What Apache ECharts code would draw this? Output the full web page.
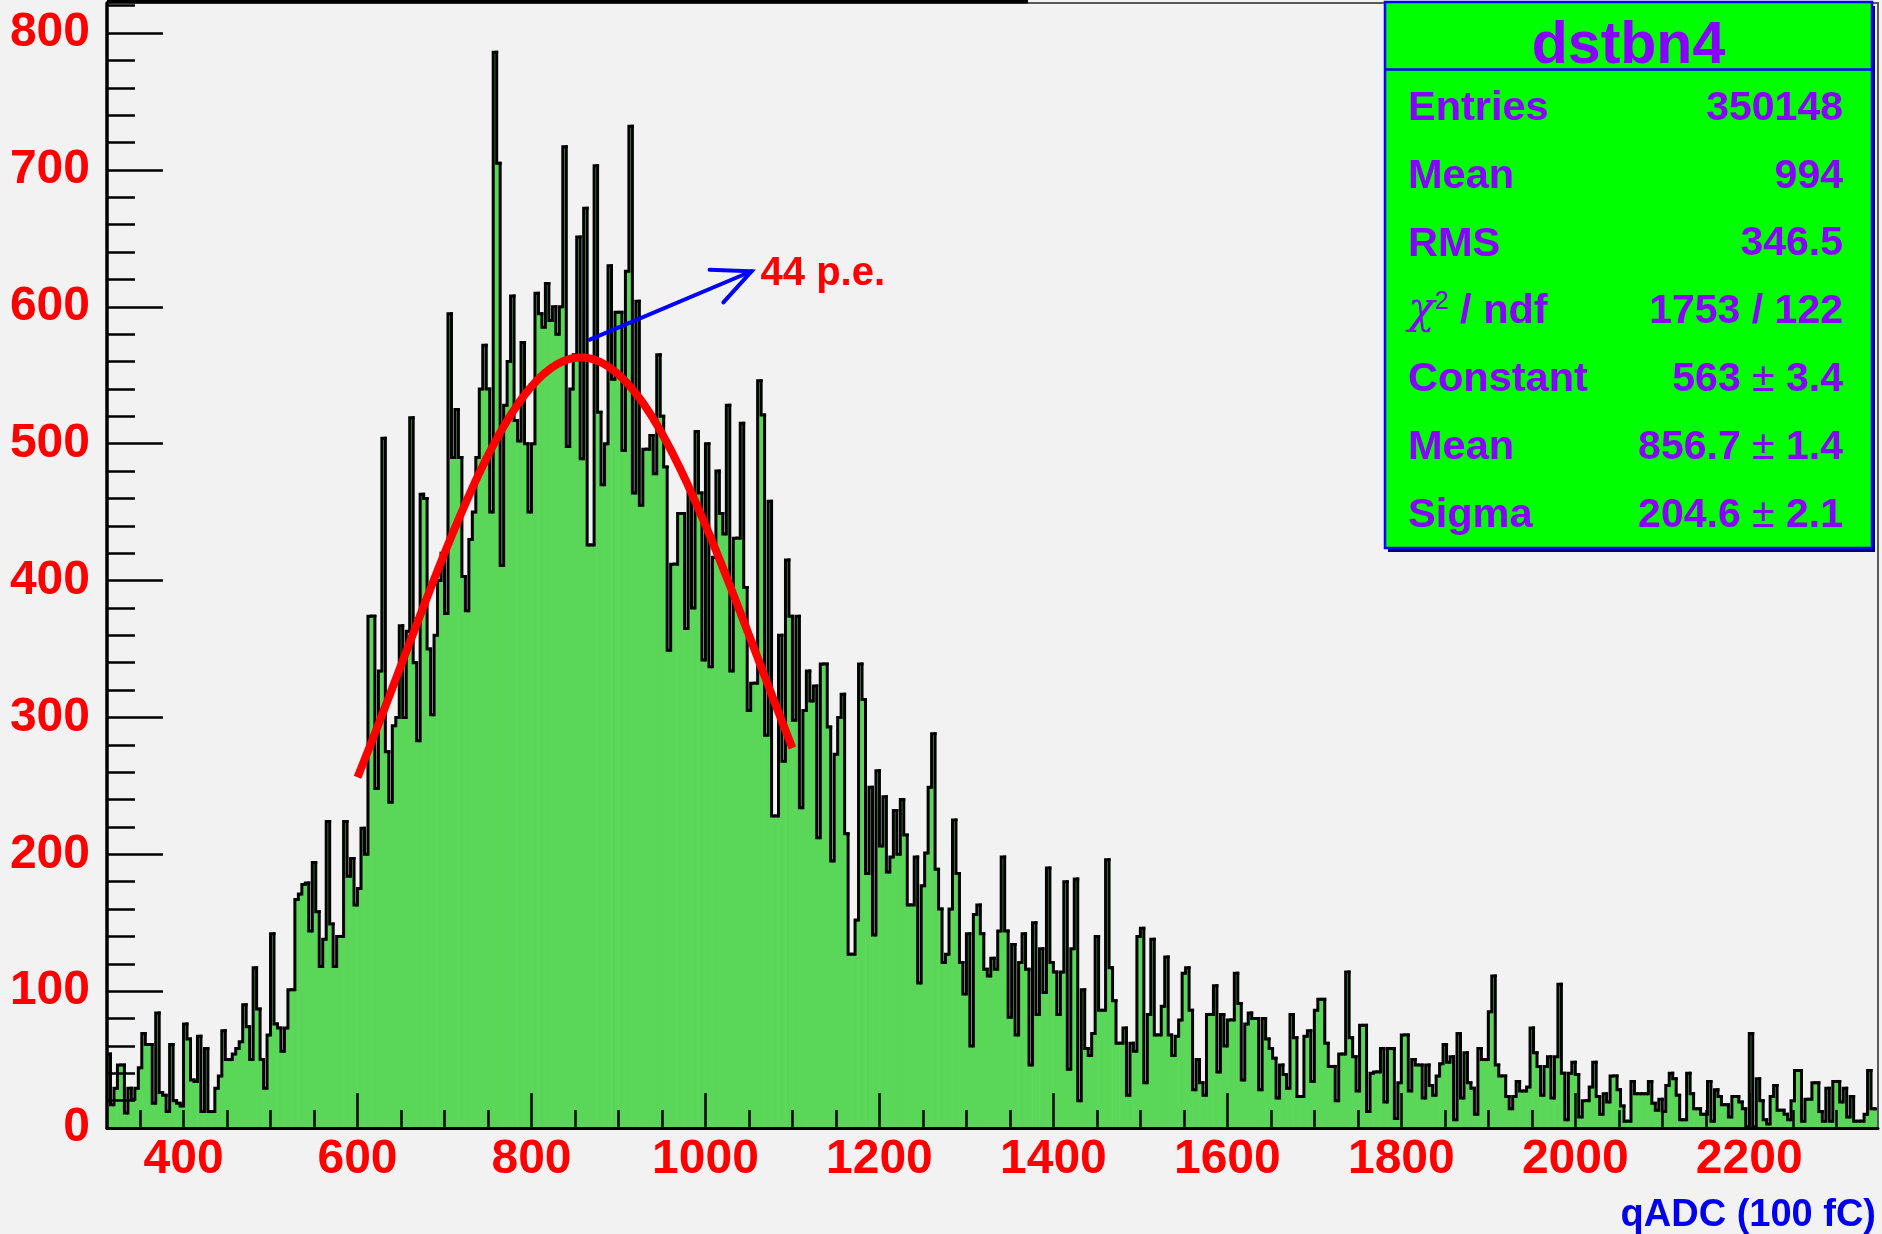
<!DOCTYPE html>
<html>
<head>
<meta charset="utf-8">
<title>dstbn4 qADC</title>
<script src="https://cdn.jsdelivr.net/npm/echarts@6/dist/echarts.min.js"></script>
<style>
  html, body { margin: 0; padding: 0; background: #f2f2f2; }
  #chart { width: 1882px; height: 1234px; }
</style>
</head>
<body>
<div id="chart"></div>
<script>
// Histogram binning (qADC, 100 fC units)
const binStart = 312;
const binWidth = 4;

// Entries per bin, from 312 upward in steps of binWidth
const counts = [
  54, 17, 29, 46, 46, 11, 29, 21, 29, 44,
  69, 61, 61, 18, 84, 26, 24, 12, 61, 20,
  18, 16, 76, 65, 35, 34, 67, 12, 58, 12,
  12, 29, 38, 71, 50, 50, 54, 58, 63, 90,
  74, 50, 117, 87, 50, 29, 68, 142, 76, 73,
  56, 73, 101, 101, 167, 171, 178, 179, 144, 194,
  158, 118, 138, 224, 149, 118, 140, 140, 224, 184,
  197, 163, 175, 219, 200, 374, 374, 248, 334, 504,
  275, 238, 294, 300, 367, 300, 363, 519, 340, 283,
  463, 460, 350, 302, 360, 400, 420, 376, 595, 490,
  525, 490, 403, 378, 430, 450, 490, 540, 572, 540,
  450, 786, 705, 411, 528, 560, 608, 517, 502, 574,
  500, 450, 500, 610, 595, 585, 617, 590, 600, 580,
  600, 717, 498, 540, 565, 651, 489, 672, 426, 426,
  703, 523, 470, 500, 630, 547, 596, 596, 495, 626,
  732, 464, 604, 455, 496, 496, 506, 478, 565, 520,
  483, 349, 412, 412, 449, 449, 365, 464, 380, 509,
  464, 342, 500, 337, 417, 480, 449, 434, 528, 334,
  431, 431, 515, 395, 305, 325, 325, 546, 521, 287,
  458, 228, 228, 360, 268, 415, 374, 298, 374, 234,
  305, 334, 312, 323, 212, 339, 339, 293, 195, 273,
  300, 317, 215, 127, 127, 152, 339, 313, 186, 249,
  141, 261, 206, 242, 187, 198, 232, 200, 240, 214,
  163, 163, 198, 106, 177, 201, 249, 288, 189, 160,
  121, 127, 160, 225, 186, 121, 98, 142, 60, 156,
  163, 142, 116, 111, 124, 116, 144, 198, 144, 81,
  134, 68, 121, 142, 116, 46, 150, 83, 131, 99,
  190, 121, 114, 83, 114, 180, 43, 131, 182, 20,
  101, 58, 53, 69, 140, 86, 86, 196, 117, 93,
  62, 62, 73, 24, 62, 56, 140, 146, 33, 83,
  138, 68, 68, 89, 125, 68, 53, 67, 79, 113,
  117, 86, 28, 50, 33, 24, 83, 83, 104, 41,
  83, 60, 79, 79, 113, 91, 35, 76, 84, 80,
  80, 28, 80, 65, 58, 51, 22, 46, 39, 29,
  83, 66, 23, 23, 67, 71, 34, 86, 94, 94,
  62, 45, 45, 20, 54, 54, 114, 66, 52, 27,
  75, 75, 12, 40, 41, 41, 58, 19, 58, 58,
  7, 33, 68, 68, 27, 50, 46, 46, 22, 46,
  31, 24, 38, 47, 61, 48, 52, 6, 69, 22,
  55, 33, 29, 10, 58, 50, 50, 85, 111, 46,
  38, 38, 23, 14, 23, 34, 27, 27, 30, 73,
  55, 45, 24, 45, 52, 22, 52, 105, 40, 6,
  40, 48, 39, 8, 20, 20, 30, 48, 23, 10,
  25, 19, 38, 38, 28, 16, 5, 5, 34, 25,
  25, 25, 25, 34, 18, 13, 21, 12, 31, 40,
  36, 24, 6, 6, 40, 25, 14, 14, 10, 10,
  34, 5, 28, 23, 17, 17, 8, 23, 23, 19,
  14, 1, 69, 1, 36, 20, 6, 3, 23, 31,
  13, 13, 10, 6, 20, 42, 42, 5, 21, 21,
  33, 33, 12, 5, 29, 5, 34, 34, 19, 29,
  8, 23, 5, 5, 5, 10, 42, 14, 14
];

// Axis ranges and tick positions
const xRange = [312, 2348];
const yRange = [0, 822];
const xLabelValues = [400, 600, 800, 1000, 1200, 1400, 1600, 1800, 2000, 2200];
const xMajorTicks = [600, 800, 1000, 1200, 1400, 1600, 1800, 2000, 2200];
const xMinorTicks = [350, 400, 450, 500, 550, 600, 650, 700, 750, 800, 850, 900, 950,
  1000, 1050, 1100, 1150, 1200, 1250, 1300, 1350, 1400, 1450, 1500, 1550, 1600,
  1650, 1700, 1750, 1800, 1850, 1900, 1950, 2000, 2050, 2100, 2150, 2200, 2250, 2300];
const yLabelValues = [0, 100, 200, 300, 400, 500, 600, 700, 800];
const yMinorTicks = [20, 40, 60, 80, 100, 120, 140, 160, 180, 200, 220, 240, 260, 280,
  300, 320, 340, 360, 380, 400, 420, 440, 460, 480, 500, 520, 540, 560, 580, 600,
  620, 640, 660, 680, 700, 720, 740, 760, 780, 800, 820];

// Gaussian fit results
const fitConstant = 563;
const fitConstantErr = 3.4;
const fitMean = 856.7;
const fitMeanErr = 1.4;
const fitSigma = 204.6;
const fitSigmaErr = 2.1;
const fitRange = [600, 1100];
const fitChi2 = 1753;
const fitNdf = 122;

// Histogram summary
const histName = 'dstbn4';
const histEntries = 350148;
const histMean = 994;
const histRms = 346.5;

// Peak annotation
const peakArrowFrom = [867, 576];
const peakArrowTo = [1053, 626];
const peakLabel = '44 p.e.';

const xTitle = 'qADC (100 fC)';

const FONT = '"Liberation Sans", Arial, Helvetica, sans-serif';
const HIST_FILL = '#5ad658';
const STATS_TEXT = '#8a00ff';

const binData = counts.map((c, i) => [
  binStart + i * binWidth,
  binStart + (i + 1) * binWidth,
  c,
  i > 0 ? counts[i - 1] : c
]);

const fitCurve = [];
for (let x = fitRange[0]; x <= fitRange[1]; x += 2) {
  const z = (x - fitMean) / fitSigma;
  fitCurve.push([x, fitConstant * Math.exp(-0.5 * z * z)]);
}

function renderBin(params, api) {
  const x0 = api.value(0), x1 = api.value(1), y = api.value(2), yPrev = api.value(3);
  const topL = api.coord([x0, y]);
  const topR = api.coord([x1, y]);
  const base = api.coord([x0, 0]);
  const prev = api.coord([x0, yPrev]);
  return {
    type: 'group',
    children: [
      {
        type: 'rect',
        shape: { x: topL[0] - 0.3, y: topL[1], width: topR[0] - topL[0] + 0.6, height: base[1] - topL[1] },
        style: { fill: HIST_FILL }
      },
      {
        type: 'polyline',
        shape: { points: [prev, topL, topR] },
        style: { stroke: '#000000', lineWidth: 3, fill: null, lineCap: 'square', lineJoin: 'miter' }
      }
    ]
  };
}

function renderArrow(params, api) {
  const a = api.coord([api.value(0), api.value(1)]);
  const b = api.coord([api.value(2), api.value(3)]);
  const back = Math.atan2(a[1] - b[1], a[0] - b[0]);
  const len = 42, spread = 25 * Math.PI / 180;
  const h1 = [b[0] + len * Math.cos(back + spread), b[1] + len * Math.sin(back + spread)];
  const h2 = [b[0] + len * Math.cos(back - spread), b[1] + len * Math.sin(back - spread)];
  return {
    type: 'group',
    children: [
      { type: 'line', shape: { x1: a[0], y1: a[1], x2: b[0], y2: b[1] },
        style: { stroke: '#0000ff', lineWidth: 4, lineCap: 'round' } },
      { type: 'polyline', shape: { points: [h1, b, h2] },
        style: { stroke: '#0000ff', lineWidth: 4, fill: null, lineCap: 'round', lineJoin: 'miter' } },
      { type: 'text',
        style: { text: peakLabel, x: b[0] + 9, y: b[1] + 3, fill: '#ff0000',
                 fontSize: 40, fontWeight: 'bold', fontFamily: FONT,
                 align: 'left', verticalAlign: 'middle' } }
    ]
  };
}

// Stats box content
const pm = (v, e) => `{v|${v} }{pm|±}{v| ${e}}`;
const statsRows = [
  ['Entries', String(histEntries)],
  ['Mean', String(histMean)],
  ['RMS', histRms.toFixed(1)],
  ['{chi|χ}{sup|2}{l| / ndf}', `${fitChi2} / ${fitNdf}`],
  ['Constant', pm(fitConstant, fitConstantErr)],
  ['Mean', pm(fitMean.toFixed(1), fitMeanErr.toFixed(1))],
  ['Sigma', pm(fitSigma.toFixed(1), fitSigmaErr.toFixed(1))]
];

const richStats = {
  l: { fontSize: 41.5, fontWeight: 'bold', fontFamily: FONT, fill: STATS_TEXT },
  v: { fontSize: 41, fontWeight: 'bold', fontFamily: FONT, fill: STATS_TEXT },
  pm: { fontSize: 41, fontWeight: 'normal', fontFamily: FONT, fill: STATS_TEXT },
  chi: { fontSize: 44, fontStyle: 'italic', fontWeight: 'normal', fontFamily: '"DejaVu Serif", serif', fill: STATS_TEXT },
  sup: { fontSize: 25, fontWeight: 'normal', fontFamily: FONT, fill: STATS_TEXT, verticalAlign: 'top' }
};

const box = { x: 1385, y: 2, w: 487, h: 546, titleH: 67.5 };
const statsGraphics = [
  { type: 'rect', z: 100, shape: { x: box.x + 3, y: box.y + 4, width: box.w, height: box.h },
    style: { fill: '#000080' } },
  { type: 'rect', z: 101, shape: { x: box.x, y: box.y, width: box.w, height: box.h },
    style: { fill: '#00ff00', stroke: '#0000ff', lineWidth: 2.5 } },
  { type: 'line', z: 102, shape: { x1: box.x, y1: box.y + box.titleH, x2: box.x + box.w, y2: box.y + box.titleH },
    style: { stroke: '#0000ff', lineWidth: 2.5 } },
  { type: 'text', z: 103,
    style: { text: histName, x: box.x + box.w / 2, y: box.y + 45, fill: STATS_TEXT,
             fontSize: 59, fontWeight: 'bold', fontFamily: FONT, align: 'center', verticalAlign: 'middle' } }
];
statsRows.forEach((row, k) => {
  const yc = 108.5 + k * 67.8;
  const lbl = row[0].startsWith('{') ? row[0] : `{l|${row[0]}}`;
  const val = row[1].startsWith('{') ? row[1] : `{v|${row[1]}}`;
  statsGraphics.push({ type: 'text', z: 103,
    style: { text: lbl, x: box.x + 23, y: yc, align: 'left', verticalAlign: 'middle', rich: richStats } });
  statsGraphics.push({ type: 'text', z: 103,
    style: { text: val, x: 1843, y: yc, align: 'right', verticalAlign: 'middle', rich: richStats } });
});

const axisLabelStyle = { color: '#ff0000', fontSize: 48, fontWeight: 'bold', fontFamily: FONT };

const option = {
  backgroundColor: '#f2f2f2',
  animation: false,
  grid: { left: 107, right: 4, top: 3, bottom: 106, show: true, borderColor: '#5a5a5a', borderWidth: 2, z: 5 },
  xAxis: [
    {
      type: 'value', min: xRange[0], max: xRange[1], position: 'bottom', z: 10,
      axisLine: { show: true, onZero: false, lineStyle: { color: '#000000', width: 3 } },
      axisTick: { show: true, inside: true, length: 35, customValues: xMajorTicks,
                  lineStyle: { color: '#000000', width: 2.5 } },
      axisLabel: Object.assign({ show: true, customValues: xLabelValues, margin: 8,
                  formatter: v => String(v) }, axisLabelStyle),
      splitLine: { show: false }
    },
    {
      type: 'value', min: xRange[0], max: xRange[1], position: 'bottom', z: 10,
      axisLine: { show: false },
      axisTick: { show: true, inside: true, length: 18, customValues: xMinorTicks,
                  lineStyle: { color: '#000000', width: 2.5 } },
      axisLabel: { show: false },
      splitLine: { show: false }
    }
  ],
  yAxis: [
    {
      type: 'value', min: yRange[0], max: yRange[1], position: 'left', z: 10,
      axisLine: { show: true, onZero: false, lineStyle: { color: '#000000', width: 3.5 } },
      axisTick: { show: true, inside: true, length: 56, customValues: yLabelValues,
                  lineStyle: { color: '#000000', width: 2.5 } },
      axisLabel: Object.assign({ show: true, customValues: yLabelValues, margin: 17,
                  formatter: v => String(v) }, axisLabelStyle),
      splitLine: { show: false }
    },
    {
      type: 'value', min: yRange[0], max: yRange[1], position: 'left', z: 10,
      axisLine: { show: false },
      axisTick: { show: true, inside: true, length: 28, customValues: yMinorTicks,
                  lineStyle: { color: '#000000', width: 2.5 } },
      axisLabel: { show: false },
      splitLine: { show: false }
    }
  ],
  series: [
    {
      name: histName, type: 'custom', xAxisIndex: 0, yAxisIndex: 0, clip: true, z: 2,
      data: binData, encode: { x: [0, 1], y: 2 }, renderItem: renderBin
    },
    {
      name: 'gaus fit', type: 'line', xAxisIndex: 0, yAxisIndex: 0, z: 4,
      data: fitCurve, showSymbol: false, symbol: 'none',
      lineStyle: { color: '#ff0000', width: 8 }
    },
    {
      name: 'peak', type: 'custom', xAxisIndex: 0, yAxisIndex: 0, clip: false, z: 6,
      data: [[peakArrowFrom[0], peakArrowFrom[1], peakArrowTo[0], peakArrowTo[1]]],
      encode: { x: [0, 2], y: [1, 3] }, renderItem: renderArrow
    }
  ],
  graphic: [
    { type: 'line', z: 20, shape: { x1: 107, y1: 1.8, x2: 1028, y2: 1.8 },
      style: { stroke: '#000000', lineWidth: 3.6 } },
    { type: 'text', z: 20,
      style: { text: xTitle, x: 1876, y: 1216, fill: '#0000ee', fontSize: 38, fontWeight: 'bold',
               fontFamily: FONT, align: 'right', verticalAlign: 'middle' } }
  ].concat(statsGraphics)
};

const chart = echarts.init(document.getElementById('chart'), null, { renderer: 'canvas' });
chart.setOption(option);
</script>
</body>
</html>
